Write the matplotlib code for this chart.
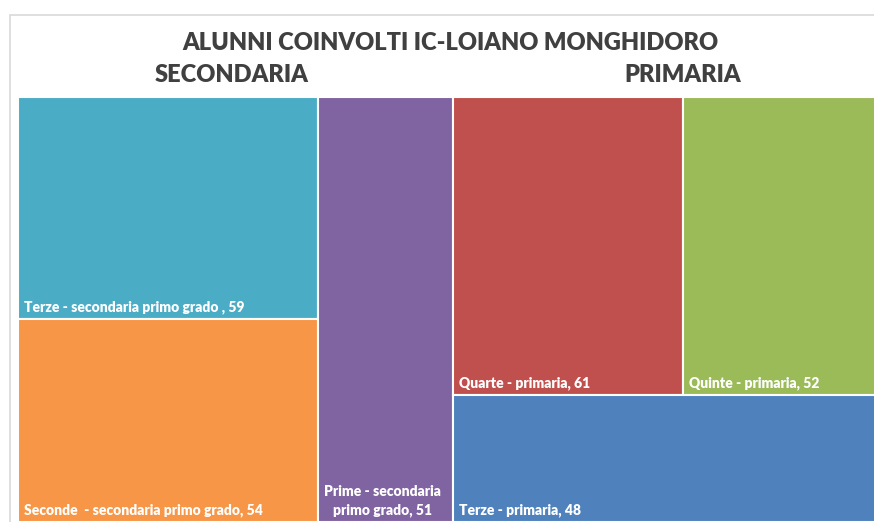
import matplotlib
matplotlib.use("Agg")
import matplotlib.pyplot as plt
from matplotlib.patches import Rectangle

# data
groups = ["SECONDARIA", "PRIMARIA"]
secondaria_labels = ["Terze - secondaria primo grado , 59",
                     "Seconde  - secondaria primo grado, 54",
                     "Prime - secondaria\nprimo grado, 51"]
secondaria_values = [59, 54, 51]
secondaria_colors = ["#4BACC6", "#F79646", "#8064A2"]

primaria_labels = ["Quarte - primaria, 61",
                   "Quinte - primaria, 52",
                   "Terze - primaria, 48"]
primaria_values = [61, 52, 48]
primaria_colors = ["#C0504D", "#9BBB59", "#4F81BD"]

title = "ALUNNI COINVOLTI IC-LOIANO MONGHIDORO"

plt.rcParams['font.family'] = ['Lato', 'DejaVu Sans']

W, H = 862.0, 425.0   # plot area units


def split_group(values, x, y, w, h, mode):
    # first two items share one strip, the rest fill the remainder
    total = sum(values)
    first = values[:2]
    rest = values[2:]
    rects = []
    if mode == "cols":
        cw = w * sum(first) / total
        yy = y
        for v in first:
            rh = h * v / sum(first)
            rects.append((x, yy, cw, rh))
            yy += rh
        xx = x + cw
        for v in rest:
            rw = (w - cw) * v / sum(rest)
            rects.append((xx, y, rw, h))
            xx += rw
    else:
        rh = h * sum(first) / total
        xx = x
        for v in first:
            rw = w * v / sum(first)
            rects.append((xx, y, rw, rh))
            xx += rw
        yy = y + rh
        for v in rest:
            hh = (h - rh) * v / sum(rest)
            rects.append((x, yy, w, hh))
            yy += hh
    return rects


fig = plt.figure(figsize=(8.74, 5.22), dpi=100)
fig.patch.set_facecolor("white")

# chart frame (light grey border)
fig.patches.append(Rectangle((10 / 874, -0.1), 1.2, 1 - 15 / 522 + 0.1,
                             transform=fig.transFigure, fill=False,
                             edgecolor="#D9D9D9", linewidth=1.2))

ax = fig.add_axes([18 / 874, 0, W / 874, H / 522])
ax.set_xlim(0, W)
ax.set_ylim(H, 0)
ax.axis("off")

totals = [sum(secondaria_values), sum(primaria_values)]
grand = sum(totals)
w_sec = W * totals[0] / grand

rects = split_group(secondaria_values, 0, 0, w_sec, H, "cols") + \
    split_group(primaria_values, w_sec, 0, W - w_sec, H, "rows")
labels = secondaria_labels + primaria_labels
colors = secondaria_colors + primaria_colors

for (x, y, w, h), lab, col in zip(rects, labels, colors):
    ax.add_patch(Rectangle((x, y), w, h, facecolor=col, edgecolor="white",
                           linewidth=1.5))
    ax.annotate(lab, xy=(x, y + h), xytext=(6, 5), textcoords="offset pixels",
                ha="left", va="bottom", multialignment="center",
                color="white", fontsize=10, fontweight="heavy",
                linespacing=1.45)

fig.text(450 / 874, 1 - 43 / 522, title, ha="center", va="center",
         fontsize=17, fontweight="heavy", color="#404040")
fig.text(232 / 874, 1 - 75 / 522, groups[0], ha="center", va="center",
         fontsize=17, fontweight="heavy", color="#404040")
fig.text(683 / 874, 1 - 75 / 522, groups[1], ha="center", va="center",
         fontsize=17, fontweight="heavy", color="#404040")

fig.savefig("out.png", dpi=100)
